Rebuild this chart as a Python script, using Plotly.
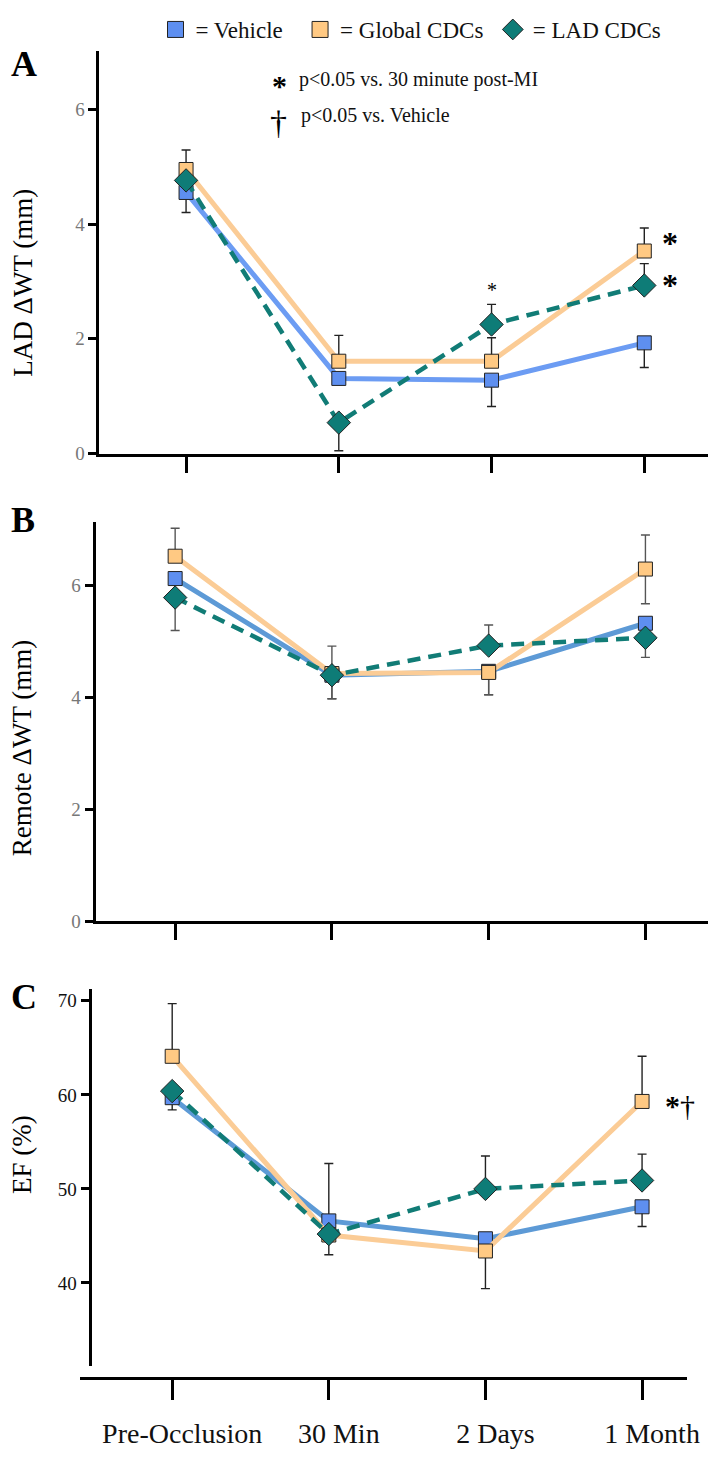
import plotly.graph_objects as go

# ---------------- data ----------------
categories = ["Pre-Occlusion", "30 Min", "2 Days", "1 Month"]
series_names = ["Vehicle", "Global CDCs", "LAD CDCs"]

# Panel A: LAD ΔWT (mm)
a_vehicle = [4.55, 1.31, 1.28, 1.93]
a_global = [4.95, 1.61, 1.61, 3.53]
a_lad = [4.76, 0.54, 2.25, 2.93]
a_vehicle_plus = [0, 0, 0, 0]
a_vehicle_minus = [0.35, 0, 0.46, 0.43]
a_global_plus = [0.34, 0.45, 0.41, 0.40]
a_global_minus = [0, 0, 0, 0]
a_lad_plus = [0, 0, 0.35, 0.38]
a_lad_minus = [0, 0.49, 0, 0]

# Panel B: Remote ΔWT (mm)
b_vehicle = [6.13, 4.40, 4.47, 5.33]
b_global = [6.53, 4.43, 4.45, 6.30]
b_lad = [5.79, 4.40, 4.93, 5.07]
b_vehicle_plus = [0, 0, 0, 0]
b_vehicle_minus = [0, 0.42, 0.42, 0]
b_global_plus = [0.50, 0.49, 0, 0.61]
b_global_minus = [0, 0.45, 0.40, 0.62]
b_lad_plus = [0, 0, 0.37, 0]
b_lad_minus = [0.59, 0, 0, 0.35]

# Panel C: EF (%)
c_vehicle = [59.7, 46.6, 44.7, 48.1]
c_global = [64.1, 45.1, 43.4, 59.3]
c_lad = [60.4, 45.2, 50.0, 50.9]
c_vehicle_plus = [0, 6.1, 0, 0]
c_vehicle_minus = [1.3, 0, 0, 2.1]
c_global_plus = [5.6, 0, 0, 4.8]
c_global_minus = [0, 2.1, 4.0, 0]
c_lad_plus = [0, 0, 3.5, 2.8]
c_lad_minus = [0, 0, 0, 0]

y_ticks_wt = [0, 2, 4, 6]
y_ticks_ef = [40, 50, 60, 70]

# ---------------- styling ----------------
W, H = 720, 1466
FONT = "Liberation Serif, Times New Roman, serif"
BLUE_FILL = "#5E8FF0"
ORANGE_FILL = "#FFC983"
TEAL_FILL = "#0E7C77"
ORANGE_LINE = "#FBCC96"
TEAL_LINE = "#117C76"


def px_x(p):
    return p / W


def px_y(p):
    return 1 - p / H


fig = go.Figure()

panels = [
    dict(key="", data=(a_vehicle, a_global, a_lad),
         err=((a_vehicle_plus, a_vehicle_minus), (a_global_plus, a_global_minus), (a_lad_plus, a_lad_minus)),
         blue_line="#6C9CF3", err_color="#222222"),
    dict(key="2", data=(b_vehicle, b_global, b_lad),
         err=((b_vehicle_plus, b_vehicle_minus), (b_global_plus, b_global_minus), (b_lad_plus, b_lad_minus)),
         blue_line="#5D9AD6", err_color="#555555"),
    dict(key="3", data=(c_vehicle, c_global, c_lad),
         err=((c_vehicle_plus, c_vehicle_minus), (c_global_plus, c_global_minus), (c_lad_plus, c_lad_minus)),
         blue_line="#5D9AD6", err_color="#222222"),
]

xs = list(range(len(categories)))

for p in panels:
    xa = "x" + p["key"]
    ya = "y" + p["key"]
    veh, glo, lad = p["data"]
    (vp, vm), (gp, gm), (lp, lm) = p["err"]
    ec = p["err_color"]
    fig.add_trace(go.Scatter(
        x=xs, y=veh, xaxis=xa, yaxis=ya, mode="lines+markers", showlegend=False,
        line=dict(color=p["blue_line"], width=5),
        marker=dict(symbol="square", size=14, color=BLUE_FILL, line=dict(color="#222", width=1)),
        error_y=dict(type="data", symmetric=False, array=vp, arrayminus=vm,
                     color=ec, thickness=1.4, width=4.5)))
    fig.add_trace(go.Scatter(
        x=xs, y=glo, xaxis=xa, yaxis=ya, mode="lines+markers", showlegend=False,
        line=dict(color=ORANGE_LINE, width=5),
        marker=dict(symbol="square", size=14, color=ORANGE_FILL, line=dict(color="#222", width=1)),
        error_y=dict(type="data", symmetric=False, array=gp, arrayminus=gm,
                     color=ec, thickness=1.4, width=4.5)))
    fig.add_trace(go.Scatter(
        x=xs, y=lad, xaxis=xa, yaxis=ya, mode="lines+markers", showlegend=False,
        line=dict(color=TEAL_LINE, width=4.5, dash="13px,8px"),
        marker=dict(symbol="diamond", size=18, color=TEAL_FILL, line=dict(color="#222", width=1)),
        error_y=dict(type="data", symmetric=False, array=lp, arrayminus=lm,
                     color=ec, thickness=1.4, width=4.5)))

# legend entries, each in its own legend box so they can be spaced like the original
legend_ids = ["legend", "legend2", "legend3"]
for name, sym, col, lid in zip(series_names, ["square", "square", "diamond"],
                               [BLUE_FILL, ORANGE_FILL, TEAL_FILL], legend_ids):
    fig.add_trace(go.Scatter(
        x=[None], y=[None], mode="markers", name="= " + name, showlegend=True, legend=lid,
        marker=dict(symbol=sym, size=22, color=col, line=dict(color="#222", width=1))))

axis_common = dict(showgrid=False, zeroline=False, showline=True, linecolor="black",
                   linewidth=3, ticks="outside", tickcolor="black")

ytick_font_gray = dict(family=FONT, size=19, color="#777777")
ytick_font_black = dict(family=FONT, size=19, color="#111111")


def legend_box(xpx):
    return dict(orientation="h", x=px_x(xpx), y=px_y(0), xanchor="left", yanchor="top",
                font=dict(family=FONT, size=23, color="#111"), itemsizing="trace",
                bgcolor="rgba(0,0,0,0)")


fig.update_layout(
    width=W, height=H, margin=dict(l=0, r=0, t=0, b=0),
    paper_bgcolor="white", plot_bgcolor="white",
    font=dict(family=FONT, color="black"),
    showlegend=True,
    legend=legend_box(150),
    legend2=legend_box(297),
    legend3=legend_box(493),
    # Panel A
    xaxis=dict(domain=[px_x(93), px_x(712)], range=[-0.567, 3.418], anchor="y",
               tickvals=xs, showticklabels=False, ticklen=16, tickwidth=3, **axis_common),
    yaxis=dict(domain=[px_y(449), px_y(43)], range=[0, 7.02], anchor="x",
               tickvals=y_ticks_wt, ticklen=8, tickwidth=3, tickfont=ytick_font_gray, **axis_common),
    # Panel B
    xaxis2=dict(domain=[px_x(89), px_x(712)], range=[-0.508, 3.40], anchor="y2",
                tickvals=xs, showticklabels=False, ticklen=16, tickwidth=3, **axis_common),
    yaxis2=dict(domain=[px_y(920), px_y(518)], range=[0, 7.14], anchor="x2",
                tickvals=y_ticks_wt, ticklen=8, tickwidth=3, tickfont=ytick_font_gray, **axis_common),
    # Panel C
    xaxis3=dict(domain=[px_x(73), px_x(691)], range=[-0.59, 3.29], anchor="free", position=px_y(1380),
                tickvals=xs, ticktext=categories, ticklen=20, tickwidth=3,
                tickfont=dict(family=FONT, size=28, color="#111"), ticklabelstandoff=10,
                ticklabelshift=10, **axis_common),
    yaxis3=dict(domain=[px_y(1368), px_y(988)], range=[31.2, 71.3], anchor="free", position=px_x(83),
                tickvals=y_ticks_ef, ticklen=8, tickwidth=3, tickfont=ytick_font_black, **axis_common),
)

ann = []
# panel letters
for letter, yy in [("A", 56), ("B", 516), ("C", 996)]:
    ann.append(dict(text="<b>" + letter + "</b>", x=px_x(1), y=px_y(yy), xref="paper", yref="paper",
                    xanchor="left", yanchor="middle", showarrow=False,
                    font=dict(family=FONT, size=36, color="black")))
# y titles
for title, yy in [("LAD ΔWT (mm)", 277), ("Remote ΔWT (mm)", 746), ("EF (%)", 1155)]:
    ann.append(dict(text=title, x=px_x(15), y=px_y(yy), xref="paper", yref="paper",
                    xanchor="center", yanchor="middle", textangle=-90, showarrow=False,
                    font=dict(family=FONT, size=27, color="black")))
# significance key
ann.append(dict(text="<b>*</b>", x=px_x(276), y=px_y(78), xref="paper", yref="paper",
                xanchor="center", yanchor="middle", showarrow=False, font=dict(family=FONT, size=30)))
ann.append(dict(text="p&lt;0.05 vs. 30 minute post-MI", x=px_x(294), y=px_y(72), xref="paper", yref="paper",
                xanchor="left", yanchor="middle", showarrow=False, font=dict(family=FONT, size=20, color="#111")))
ann.append(dict(text="†", x=px_x(275), y=px_y(115), xref="paper", yref="paper",
                xanchor="center", yanchor="middle", showarrow=False, font=dict(family=FONT, size=34)))
ann.append(dict(text="p&lt;0.05 vs. Vehicle", x=px_x(296), y=px_y(108), xref="paper", yref="paper",
                xanchor="left", yanchor="middle", showarrow=False, font=dict(family=FONT, size=20, color="#111")))
# significance marks on data
ann.append(dict(text="*", x=2, y=a_lad[2] + a_lad_plus[2], xref="x", yref="y", yshift=14,
                showarrow=False, font=dict(family=FONT, size=20)))
ann.append(dict(text="<b>*</b>", x=3, y=a_global[3], xref="x", yref="y", xshift=26, yshift=8,
                showarrow=False, font=dict(family=FONT, size=32)))
ann.append(dict(text="<b>*</b>", x=3, y=a_lad[3], xref="x", yref="y", xshift=26, yshift=0,
                showarrow=False, font=dict(family=FONT, size=32)))
ann.append(dict(text="<b>*</b>†", x=3, y=c_global[3], xref="x3", yref="y3", xshift=38, yshift=-4,
                showarrow=False, font=dict(family=FONT, size=30)))

fig.update_layout(annotations=ann)

fig.write_html("out.html")
